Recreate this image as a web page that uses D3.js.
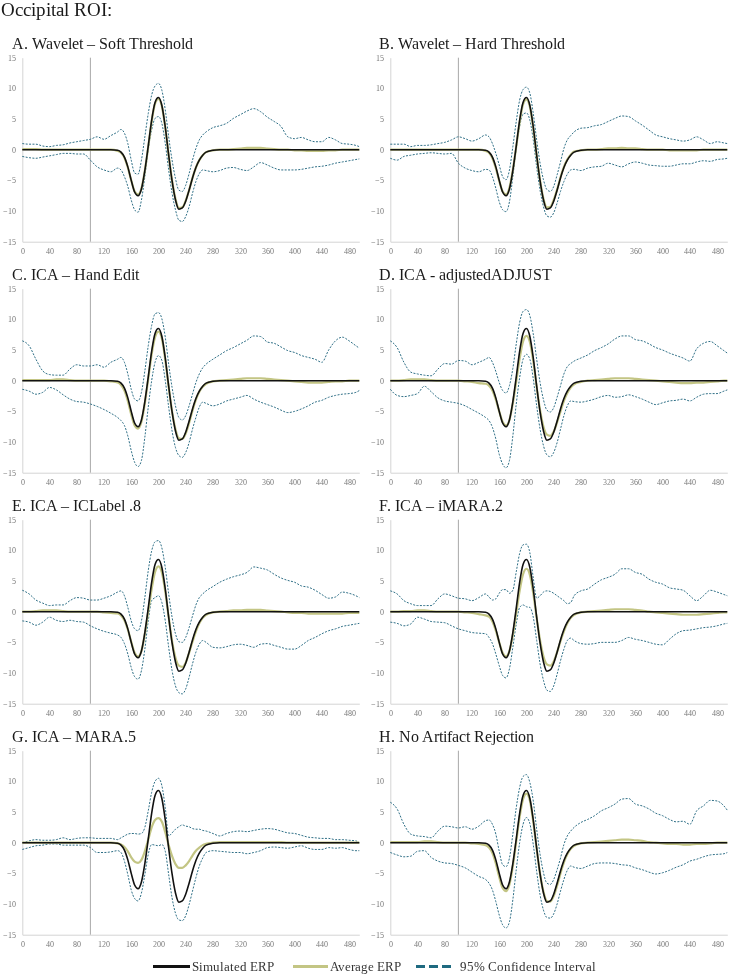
<!DOCTYPE html>
<html>
<head>
<meta charset="utf-8">
<script src="https://cdn.jsdelivr.net/npm/d3@7"></script>
<style>
  @font-face {
    font-family: "ChartSerif";
    src: local("Liberation Serif"), local("LiberationSerif"), local("LiberationSerif-Regular"),
         local("Times New Roman"), local("Tinos"), local("Tinos-Regular"),
         local("DejaVu Serif"), local("DejaVuSerif"), local("Noto Serif"), local("NotoSerif-Regular");
  }
  html, body { margin: 0; padding: 0; background: #fff; }
  svg { display: block; will-change: transform; }
  svg text { font-family: "ChartSerif", "Liberation Serif", "Times New Roman", serif !important; }
</style>
</head>
<body>
<svg id="chart" width="734" height="979"></svg>
<script>
// ---------- DATA ----------
const times = [0,10,20,30,40,50,60,70,80,90,100,110,120,130,
  140,145,150,155,160,165,170,175,180,185,190,195,200,205,210,215,220,225,230,235,240,245,250,255,260,265,270,
  280,290,300,310,320,330,340,350,360,370,380,390,400,410,420,430,440,450,460,470,480,490,495];

const xTicks = [0,40,80,120,160,200,240,280,320,360,400,440,480];
const yTicks = [-15,-10,-5,0,5,10,15];
const stimulusTime = 100;

const panelTitles = ["A. Wavelet \u2013 Soft Threshold","B. Wavelet \u2013 Hard Threshold","C. ICA \u2013 Hand Edit","D. ICA - adjustedADJUST",
  "E. ICA \u2013 ICLabel .8","F. ICA \u2013 iMARA.2","G. ICA \u2013 MARA.5","H. No Artifact Rejection"];

const simulatedERP = [0,0,0,0,0,0,0,0,0,0,0,0,0,0,
  -0.1,-0.4,-1.2,-2.8,-5.0,-6.9,-7.5,-6.4,-3.4,0.6,4.8,7.7,8.5,7.2,3.7,-0.9,-5.1,-8.2,-9.7,-9.5,-8.4,-6.6,-4.6,-2.9,-1.7,-0.9,-0.4,
  -0.1,0,0,0,0,0,0,0,0,0,0,0,0,0,0,0,0,0,0,0,0,0,0];

const avgA = [0.1,0.1,0.1,0,0,0,0,0,0,0,0,0,0,0,
  -0.2,-0.5,-1.3,-2.9,-5.0,-6.8,-7.3,-6.3,-3.4,0.5,4.6,7.5,8.3,7.1,3.6,-0.9,-5.0,-8.0,-9.5,-9.4,-8.3,-6.6,-4.6,-2.9,-1.7,-0.9,-0.4,
  -0.1,0,0,0.1,0.2,0.3,0.3,0.3,0.2,0.1,0,0,-0.1,-0.1,-0.2,-0.2,-0.2,-0.1,-0.1,0,0,0,0];
const upperA = [1.0,0.9,0.9,0.6,0.5,0.7,0.8,1.1,1.3,1.5,1.7,2.1,1.7,2.3,
  2.9,3.3,2.7,1.0,-1.7,-3.8,-4.0,-1.7,2.1,5.9,8.9,10.4,10.8,9.7,6.5,2.1,-1.7,-4.7,-6.6,-6.8,-5.8,-3.9,-1.7,0.2,1.6,2.4,2.9,
  3.6,3.9,4.3,5.1,5.7,6.3,6.7,6.2,5.3,4.6,3.8,2.1,1.8,2.0,1.6,1.3,1.3,2.0,1.6,1.0,0.9,0.7,0.5];
const lowerA = [-1.1,-1.3,-1.4,-1.2,-1.0,-0.8,-0.6,-0.6,-0.7,-0.7,-1.7,-2.8,-3.3,-3.6,
  -3.0,-3.3,-4.4,-6.0,-8.2,-9.8,-10.2,-8.2,-4.4,0,3.2,5.1,5.4,4.3,1.0,-3.3,-7.1,-9.8,-11.5,-11.7,-10.9,-9.3,-7.1,-5.2,-3.9,-3.3,-3.4,
  -3.6,-3.4,-3.0,-2.9,-3.2,-3.4,-2.8,-2.1,-2.5,-3.0,-3.3,-3.3,-3.3,-3.2,-3.0,-2.8,-2.7,-2.5,-2.2,-2.0,-1.8,-1.6,-1.5];

const avgB = [0,0,0,0,0,0,0,0,0,0,0,0,0,0,
  -0.2,-0.5,-1.4,-3.0,-5.1,-6.8,-7.3,-6.2,-3.3,0.5,4.5,7.4,8.2,7.0,3.5,-0.9,-5.0,-8.0,-9.4,-9.3,-8.2,-6.5,-4.5,-2.8,-1.6,-0.8,-0.3,
  -0.1,0,0,0.1,0.2,0.2,0.3,0.2,0.2,0.1,0,0,0,-0.1,-0.1,-0.1,-0.1,-0.1,0,0,0,0,0];
const upperB = [0.9,0.9,0.9,0.5,0.7,0.7,0.8,1.0,1.2,1.6,2.1,1.8,1.4,1.8,
  2.4,2.1,1.0,-0.6,-2.5,-4.4,-4.9,-3.3,0.5,4.6,8.1,9.8,10.2,9.2,5.9,1.6,-2.2,-4.9,-6.5,-6.8,-6.0,-4.1,-2.0,0.2,1.6,2.3,2.9,
  3.5,3.6,3.9,4.1,4.6,5.1,5.5,5.4,4.7,4.0,3.2,2.4,2.1,1.8,1.6,1.4,1.6,2.1,1.6,1.0,1.3,1.1,1.0];
const lowerB = [-1.4,-1.7,-1.1,-0.9,-0.7,-0.6,-0.5,-0.6,-0.7,-0.6,-2.2,-3.0,-3.4,-3.6,
  -3.2,-3.3,-4.4,-6.3,-8.5,-9.8,-10.1,-8.5,-4.4,0.2,3.8,5.8,6.0,4.8,1.6,-2.8,-6.6,-9.3,-10.8,-11.0,-10.3,-8.7,-6.8,-5.2,-4.0,-3.3,-3.2,
  -3.4,-3.0,-2.8,-2.7,-2.2,-2.5,-2.8,-2.3,-2.0,-2.2,-2.5,-2.6,-2.7,-2.7,-2.5,-2.3,-2.3,-2.0,-1.8,-1.9,-1.6,-1.5,-1.4];

const avgC = [0.1,0.1,0.1,0.1,0.1,0.2,0.2,0.1,0,0,0,0,0,-0.1,
  -0.3,-0.7,-1.6,-3.3,-5.5,-7.3,-7.8,-6.7,-3.7,0.3,4.3,7.1,8.0,6.9,3.4,-1.0,-5.0,-7.9,-9.4,-9.5,-8.6,-6.9,-4.9,-3.1,-1.8,-1.0,-0.5,
  -0.1,0,0.1,0.2,0.3,0.4,0.4,0.4,0.3,0.2,0.1,0,-0.1,-0.2,-0.3,-0.3,-0.3,-0.2,-0.1,-0.1,0,0,0];
const upperC = [6.5,5.7,3.5,1.6,1.0,0.9,0.9,1.9,2.6,2.4,2.4,2.6,2.2,3.0,
  3.5,3.8,3.0,1.1,-1.4,-3.0,-3.3,-1.9,1.6,5.7,9.0,10.9,11.1,10.1,7.1,2.7,-1.1,-4.1,-6.0,-6.4,-5.7,-4.1,-2.2,-0.3,1.1,2.1,2.7,
  3.5,4.2,4.9,5.4,6.0,6.6,7.3,7.2,6.3,6.1,5.5,4.9,4.6,4.1,3.8,3.5,3.0,5.0,6.5,7.1,6.5,5.7,5.3];
const lowerC = [-1.4,-1.7,-2.2,-1.9,-1.1,-1.5,-2.3,-3.0,-3.4,-3.5,-3.8,-4.2,-4.7,-5.3,
  -6.0,-6.5,-7.3,-9.0,-11.4,-13.3,-14.0,-13.0,-9.2,-4.3,0,3.0,4.1,3.3,0,-4.3,-8.2,-10.9,-12.2,-12.5,-11.7,-10.1,-7.9,-6.0,-4.3,-3.5,-3.7,
  -4.1,-3.8,-3.3,-3.0,-2.7,-2.4,-3.0,-3.5,-3.9,-4.3,-4.8,-5.2,-5.0,-4.6,-4.1,-3.5,-3.2,-2.7,-2.4,-2.2,-2.1,-1.9,-1.6];

const avgD = [0,0,0.1,0.2,0.2,0.2,0.1,0,0,0,0,-0.1,-0.2,-0.4,
  -0.5,-0.8,-1.6,-3.1,-5.0,-6.7,-7.3,-6.4,-3.7,-0.1,3.6,6.4,7.3,6.3,3.2,-1.0,-4.8,-7.5,-8.8,-9.0,-8.3,-6.8,-5.0,-3.3,-2.0,-1.1,-0.6,
  -0.2,0,0.1,0.2,0.3,0.4,0.4,0.4,0.3,0.2,0.1,0,-0.1,-0.2,-0.3,-0.4,-0.4,-0.3,-0.3,-0.2,-0.1,0,0];
const upperD = [6.5,5.4,3.0,1.4,1.1,0.9,0.8,1.9,2.8,2.7,3.3,3.2,2.6,3.0,
  3.5,3.8,3.0,1.5,-0.3,-1.6,-2.0,-0.8,2.0,6.0,9.5,11.3,11.6,10.6,7.6,3.5,-0.3,-3.1,-4.8,-5.1,-4.4,-2.7,-0.8,1.1,2.3,2.8,3.2,
  3.7,4.2,4.9,5.4,6.0,6.8,7.3,7.3,6.7,6.5,6.0,5.4,5.0,4.5,4.1,3.7,3.2,5.2,6.1,6.4,5.7,4.9,4.5];
const lowerD = [-1.4,-2.4,-2.6,-2.4,-2.1,-0.9,-1.8,-2.8,-3.3,-3.5,-3.7,-4.1,-4.7,-5.3,
  -6.0,-6.5,-7.6,-9.5,-12.0,-13.6,-14.2,-13.0,-9.0,-3.8,0.5,3.5,4.3,3.5,0.3,-4.1,-7.9,-10.6,-12.1,-12.4,-11.7,-10.1,-7.9,-5.7,-4.1,-3.3,-3.4,
  -3.5,-3.3,-3.0,-2.6,-2.4,-2.7,-2.6,-2.3,-2.6,-3.0,-3.5,-3.9,-3.6,-3.3,-3.2,-3.0,-3.3,-2.7,-2.2,-2.1,-2.1,-1.7,-1.5];

const avgE = [0,0,0.1,0.2,0.2,0.2,0.1,0,0,0,0,0,-0.1,-0.2,
  -0.3,-0.6,-1.4,-2.9,-4.9,-6.7,-7.3,-6.4,-3.6,0,3.7,6.5,7.4,6.4,3.3,-0.9,-4.8,-7.5,-8.8,-9.0,-8.3,-6.7,-4.9,-3.2,-1.9,-1.0,-0.5,
  -0.1,0,0.1,0.2,0.2,0.3,0.3,0.3,0.2,0.1,0,-0.1,-0.2,-0.2,-0.3,-0.3,-0.3,-0.3,-0.3,-0.3,-0.2,-0.2,-0.2];
const upperE = [3.5,2.9,1.9,1.4,1.0,1.1,1.1,1.8,2.3,2.2,1.9,1.9,2.2,2.6,
  3.2,3.4,2.6,0.7,-1.5,-2.8,-3.1,-1.5,2.3,6.7,9.9,11.4,11.6,10.4,7.2,2.9,-0.9,-3.6,-4.9,-5.0,-4.2,-2.6,-0.7,1.1,2.3,2.9,3.4,
  4.1,4.8,5.3,5.7,6.0,6.4,7.3,7.1,6.8,6.1,5.5,5.1,4.8,4.2,4.0,3.5,2.8,2.2,2.4,3.2,3.0,2.6,2.3];
const lowerE = [-1.5,-1.7,-2.2,-1.7,-0.9,-1.4,-1.6,-1.4,-1.6,-1.7,-2.3,-2.8,-3.2,-3.5,
  -3.8,-4.2,-5.2,-6.9,-9.1,-10.6,-11.0,-9.6,-6.1,-1.5,1.8,2.3,2.6,1.5,-1.5,-5.8,-9.6,-12.1,-13.2,-13.4,-12.6,-10.7,-8.5,-6.6,-5.3,-4.7,-5.0,
  -5.8,-5.9,-5.7,-5.4,-5.3,-5.5,-5.8,-5.3,-5.2,-5.5,-5.8,-6.1,-6.1,-5.5,-4.7,-4.2,-3.6,-3.1,-2.8,-2.4,-2.2,-2.0,-1.9];

const avgF = [0,0,0.1,0.1,0.2,0.2,0.1,0,0,0,0,-0.1,-0.2,-0.4,
  -0.6,-0.8,-1.6,-3.1,-5.0,-6.7,-7.3,-6.4,-3.8,-0.2,3.4,6.1,7.0,6.0,3.0,-1.0,-4.7,-7.3,-8.6,-8.8,-8.1,-6.6,-4.8,-3.2,-1.9,-1.0,-0.5,
  -0.1,0,0.1,0.2,0.3,0.4,0.4,0.4,0.3,0.2,0,-0.1,-0.2,-0.3,-0.4,-0.5,-0.5,-0.5,-0.4,-0.3,-0.2,-0.1,-0.1];
const upperF = [3.4,2.9,1.8,1.3,1.0,1.0,1.0,2.1,2.9,2.6,2.2,2.1,1.8,2.3,
  2.9,2.4,1.9,2.1,3.0,3.6,3.6,3.0,3.5,6.5,9.5,10.9,11.0,9.6,5.5,2.2,2.6,3.2,3.4,3.3,3.0,2.6,2.2,1.8,1.3,1.5,2.6,
  3.4,3.7,4.5,5.2,5.6,6.1,7.0,7.0,6.4,6.1,5.3,4.8,4.5,3.9,3.7,3.5,2.6,1.8,2.6,3.5,3.2,2.8,2.6];
const lowerF = [-1.7,-1.9,-2.3,-2.0,-0.9,-1.2,-1.6,-1.7,-1.8,-2.3,-2.8,-3.1,-3.4,-3.5,
  -3.6,-4.2,-5.2,-6.9,-8.8,-10.4,-10.8,-9.3,-5.8,-2.0,0.7,1.1,0.8,0.7,-0.9,-4.7,-8.5,-11.2,-12.8,-13.0,-12.1,-10.2,-8.0,-6.1,-4.7,-4.3,-4.7,
  -5.2,-5.3,-5.2,-5.0,-5.0,-5.0,-4.7,-4.2,-4.5,-4.7,-5.0,-5.3,-5.4,-4.5,-3.6,-3.1,-3.0,-2.8,-2.6,-2.5,-2.3,-2.0,-1.9];

const avgG = [0,0,0,0,0,0,0,0,0,0,0,0,0,0,
  -0.1,-0.3,-0.7,-1.4,-2.4,-3.1,-3.3,-2.8,-1.4,0.5,2.5,3.7,4.0,3.4,1.7,-0.4,-2.2,-3.5,-4.1,-4.1,-3.7,-3.0,-2.1,-1.3,-0.8,-0.4,-0.2,
  0,0.1,0.1,0.1,0.1,0.1,0.1,0.1,0.1,0.1,0.1,0,0,0,0,0,0,0,0,0,0,0,0];
const upperG = [0,0.3,0.5,0.4,0.4,0.5,0.8,0.5,0.7,0.8,0.8,0.7,0.7,0.7,
  0.5,0.8,1.1,1.4,1.5,1.5,1.4,1.5,2.5,5.2,8.2,10.0,10.5,9.3,5.7,1.1,1.6,2.2,2.6,2.9,2.7,2.6,2.3,2.2,2.2,2.0,1.9,
  1.5,1.1,1.5,1.8,1.9,1.8,2.0,2.2,2.3,2.2,1.9,1.6,1.5,1.2,0.9,0.8,0.7,0.7,0.5,0.5,0.4,0.3,0];
const lowerG = [-1.1,-0.8,-0.5,-0.4,-0.2,-0.2,-0.4,-0.4,-0.4,-0.4,-0.8,-1.6,-1.6,-1.5,
  -1.3,-1.6,-3.0,-5.2,-7.7,-9.1,-9.5,-8.2,-5.2,-1.9,-0.3,-0.4,-0.5,-0.3,-1.4,-5.2,-9.0,-11.5,-12.6,-12.7,-11.9,-10.1,-7.9,-5.7,-3.8,-2.5,-1.6,
  -1.3,-1.4,-1.5,-1.6,-1.6,-1.8,-1.6,-1.3,-0.8,-0.7,-0.8,-0.9,-0.7,-0.5,-0.9,-1.1,-1.1,-0.8,-0.9,-0.8,-1.1,-1.3,-1.3];

const avgH = [0.1,0.1,0.1,0.1,0.1,0.2,0.2,0.1,0,0,0,0,-0.1,-0.2,
  -0.4,-0.8,-1.7,-3.4,-5.6,-7.4,-7.9,-6.8,-3.8,0.2,4.2,7.1,8.0,6.9,3.4,-1.0,-5.1,-8.0,-9.5,-9.6,-8.7,-7.0,-5.0,-3.2,-1.9,-1.0,-0.5,
  -0.1,0,0.1,0.2,0.3,0.4,0.5,0.5,0.4,0.3,0.1,0,-0.1,-0.2,-0.2,-0.3,-0.3,-0.2,-0.2,-0.1,0,0,0];
const upperH = [6.6,5.5,3.0,1.4,1.1,1.0,0.8,1.9,2.7,2.6,2.4,2.6,2.2,2.7,
  3.6,3.7,3.0,1.4,-1.4,-3.6,-3.9,-2.5,1.4,5.7,9.0,10.8,11.1,9.8,6.8,2.2,-1.9,-4.9,-6.6,-6.8,-6.0,-4.4,-2.5,-0.3,1.1,1.9,2.5,
  3.3,3.8,4.4,5.2,5.7,6.3,7.1,7.2,6.3,6.0,5.5,4.8,4.4,3.8,3.4,3.5,3.0,5.2,6.0,6.9,6.8,6.0,5.3];
const lowerH = [-1.6,-2.0,-2.3,-2.2,-1.4,-1.3,-2.4,-3.0,-3.3,-3.4,-3.7,-4.1,-4.8,-5.5,
  -6.0,-6.6,-7.7,-9.6,-11.8,-13.4,-13.9,-12.9,-9.3,-4.4,0,3.0,4.1,3.1,-0.3,-4.7,-8.5,-11.0,-12.2,-12.3,-11.6,-10.0,-7.9,-6.0,-4.5,-3.8,-4.0,
  -4.2,-3.8,-3.4,-3.3,-3.3,-3.4,-3.6,-3.7,-4.1,-4.4,-4.8,-5.1,-4.9,-4.5,-4.0,-3.6,-3.0,-2.7,-2.3,-2.0,-1.9,-1.8,-1.6];

const legendLabels = ["Simulated ERP","Average ERP","95% Confidence Interval"];

// ---------- BUILD ----------
const panels = [
  {title: panelTitles[0], avg: avgA, upper: upperA, lower: lowerA},
  {title: panelTitles[1], avg: avgB, upper: upperB, lower: lowerB},
  {title: panelTitles[2], avg: avgC, upper: upperC, lower: lowerC},
  {title: panelTitles[3], avg: avgD, upper: upperD, lower: lowerD},
  {title: panelTitles[4], avg: avgE, upper: upperE, lower: lowerE},
  {title: panelTitles[5], avg: avgF, upper: upperF, lower: lowerF},
  {title: panelTitles[6], avg: avgG, upper: upperG, lower: lowerG},
  {title: panelTitles[7], avg: avgH, upper: upperH, lower: lowerH}
];

const COLORS = {sim: "#111111", avg: "#c3c584", ci: "#2f6f86", axis: "#d4d4d4", vline: "#a8a8a8", tick: "#7a7a7a", title: "#1a1a1a"};
const SERIF = "ChartSerif, 'Liberation Serif', 'Times New Roman', serif";

const svg = d3.select("#chart");

svg.append("text")
  .attr("x", 1).attr("y", 16)
  .attr("font-size", 19).attr("fill", COLORS.title)
  .style("font-family", SERIF)
  .text("Occipital ROI:");

const colLeft = [22.3, 390.3];
const colTitleX = [11.5, 378.5];
const plotW = 337;
const plotH = 184;
const rowTop = [57.7, 288.7, 519.7, 750.7];

panels.forEach((p, i) => {
  const col = i % 2, row = Math.floor(i / 2);
  const left = colLeft[col], top = rowTop[row];

  const x = d3.scaleLinear().domain([0, 495]).range([left, left + plotW]);
  const y = d3.scaleLinear().domain([-15, 15]).range([top + plotH, top]);

  const g = svg.append("g");

  g.append("text")
    .attr("x", colTitleX[col]).attr("y", top - 8.5)
    .attr("font-size", 15.7).attr("fill", COLORS.title)
    .style("font-family", SERIF)
    .text(p.title);

  // axes
  const yAxis = d3.axisLeft(y).tickValues(yTicks).tickSize(0).tickPadding(6.5);
  const ya = g.append("g").attr("transform", `translate(${left},0)`).call(yAxis)
    .attr("font-family", null);
  ya.select(".domain").attr("stroke", COLORS.axis).attr("stroke-width", 1);
  ya.selectAll("text").attr("font-size", 8).attr("fill", COLORS.tick)
    .style("font-family", SERIF);

  const xAxis = d3.axisBottom(x).tickValues(xTicks).tickSize(0).tickPadding(7);
  const xa = g.append("g").attr("transform", `translate(0,${top + plotH})`).call(xAxis)
    .attr("font-family", null);
  xa.select(".domain").attr("stroke", COLORS.axis).attr("stroke-width", 1);
  xa.selectAll("text").attr("font-size", 8).attr("fill", COLORS.tick)
    .style("font-family", SERIF);

  // stimulus line
  g.append("line")
    .attr("x1", x(stimulusTime)).attr("x2", x(stimulusTime))
    .attr("y1", y(15)).attr("y2", y(-15))
    .attr("stroke", COLORS.vline).attr("stroke-width", 1);

  const line = d3.line()
    .x((d, k) => x(times[k]))
    .y(d => y(d))
    .curve(d3.curveMonotoneX);

  [p.upper, p.lower].forEach(arr => {
    g.append("path").attr("d", line(arr))
      .attr("fill", "none").attr("stroke", COLORS.ci)
      .attr("stroke-width", 1).attr("stroke-dasharray", "2,1.4");
  });
  g.append("path").attr("d", line(p.avg))
    .attr("fill", "none").attr("stroke", COLORS.avg).attr("stroke-width", 2.2);
  g.append("path").attr("d", line(simulatedERP))
    .attr("fill", "none").attr("stroke", COLORS.sim).attr("stroke-width", 1.6);
});

// ---------- LEGEND ----------
const legendY = 966.5;
const legendItems = [
  {label: legendLabels[0], x1: 153, x2: 190, color: COLORS.sim, dash: null},
  {label: legendLabels[1], x1: 293, x2: 328, color: COLORS.avg, dash: null},
  {label: legendLabels[2], x1: 416, x2: 455, color: "#1f6a80", dash: "9,4"}
];
const lg = svg.append("g");
legendItems.forEach(it => {
  lg.append("line").attr("x1", it.x1).attr("x2", it.x2)
    .attr("y1", legendY).attr("y2", legendY)
    .attr("stroke", it.color).attr("stroke-width", 3)
    .attr("stroke-dasharray", it.dash);
  lg.append("text").attr("x", it.x2 + (it.dash ? 5 : 2)).attr("y", legendY + 4.5)
    .attr("font-size", 12.7).attr("fill", "#333")
    .style("font-family", SERIF)
    .text(it.label);
});
</script>
</body>
</html>
